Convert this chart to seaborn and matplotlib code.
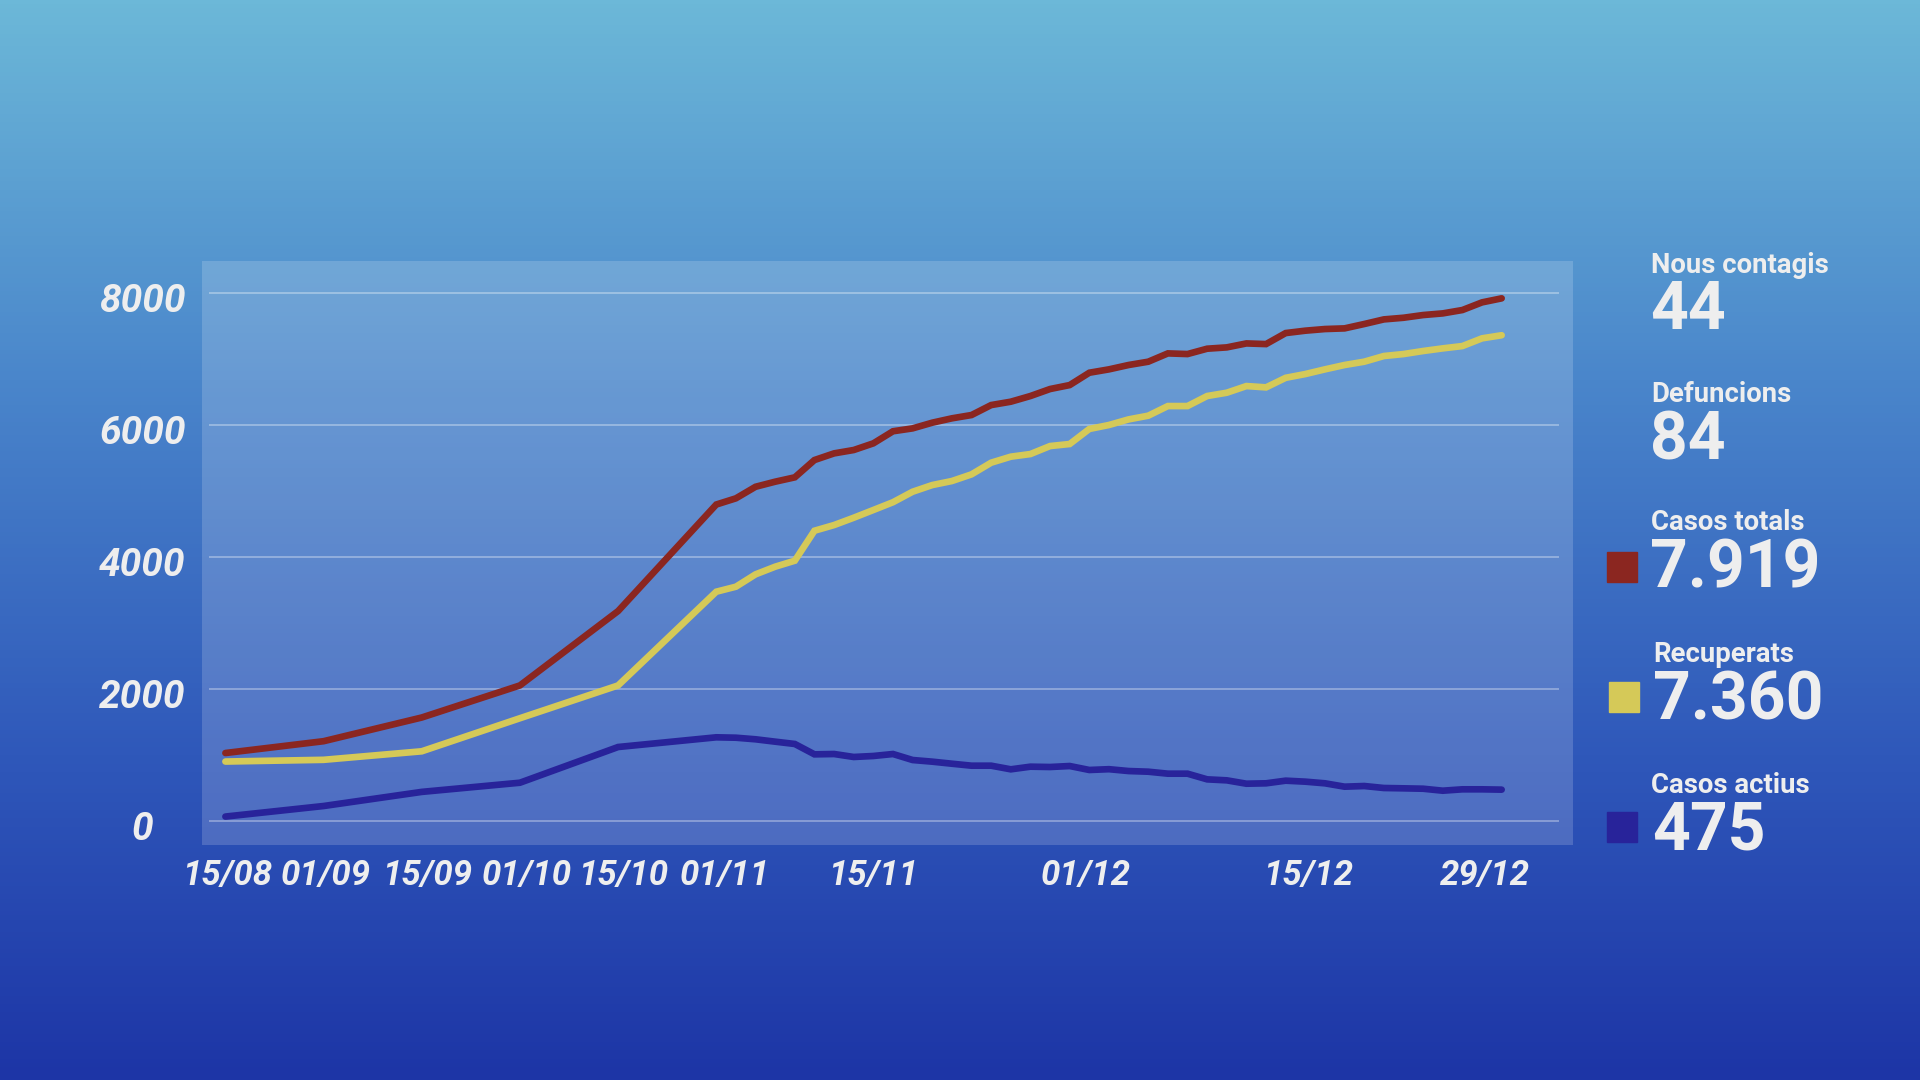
import numpy as np
import pandas as pd
import matplotlib
matplotlib.use("Agg")
import matplotlib.pyplot as plt
from matplotlib.colors import LinearSegmentedColormap
from matplotlib.transforms import ScaledTranslation
import seaborn as sns

# ---------------- data ----------------
# position of each data point on the category axis (early points are sparse)
point_idx = [0, 5, 10, 15, 20] + list(range(25, 66))

casos_totals = [1030, 1209, 1568, 2054, 3181,
                4795, 4889, 5064, 5141, 5207, 5469, 5570, 5621, 5722, 5905,
                5949, 6035, 6101, 6151, 6302, 6353, 6439, 6545, 6605, 6792,
                6843, 6909, 6959, 7085, 7075, 7156, 7176, 7236, 7226, 7393,
                7429, 7454, 7464, 7530, 7600, 7625, 7666, 7691, 7742, 7858, 7919]

recuperats = [901, 927, 1056, 1557, 2054,
              3474, 3550, 3737, 3853, 3944, 4398, 4484, 4595, 4712, 4830,
              4989, 5090, 5151, 5252, 5429, 5520, 5560, 5681, 5712, 5940,
              6000, 6085, 6141, 6287, 6287, 6439, 6489, 6590, 6570, 6715,
              6772, 6843, 6909, 6959, 7045, 7075, 7121, 7161, 7196, 7313, 7360]

casos_actius = [67, 227, 441, 580, 1121,
                1268, 1262, 1238, 1202, 1167, 1010, 1015, 970, 985, 1015,
                924, 899, 868, 838, 838, 783, 823, 818, 833, 773,
                785, 757, 747, 717, 717, 631, 616, 565, 571, 611,
                596, 571, 520, 530, 500, 495, 489, 459, 480, 480, 475]

tick_labels = ["15/08", "01/09", "15/09", "01/10", "15/10", "01/11",
               "15/11", "01/12", "15/12", "29/12"]
y_ticks = [0, 2000, 4000, 6000, 8000]

series_names = ["Casos totals", "Recuperats", "Casos actius"]
series_colors = ["#8B2620", "#D5C958", "#28239A"]

legend_titles = ["Nous contagis", "Defuncions", "Casos totals", "Recuperats", "Casos actius"]
legend_values = ["44", "84", "7.919", "7.360", "475"]
legend_swatch = [None, None, "#8B2620", "#D5C958", "#28239A"]

df = pd.DataFrame({
    "idx": point_idx * 3,
    "value": casos_totals + recuperats + casos_actius,
    "serie": sum([[n] * len(point_idx) for n in series_names], []),
})

# ---------------- style ----------------
sns.set_theme(style="white")
plt.rcParams["font.family"] = ["Roboto", "DejaVu Sans"]

W, H = 1920, 1080
fig = plt.figure(figsize=(19.2, 10.8), dpi=100)

# background gradient
bg = fig.add_axes([0, 0, 1, 1], zorder=-10)
cmap = LinearSegmentedColormap.from_list(
    "bg", [(0.0, "#6CB8D8"), (0.35, "#4A86CB"), (0.7, "#2F58BA"), (1.0, "#1D35A6")])
grad = np.linspace(0, 1, 256).reshape(-1, 1)
bg.imshow(grad, aspect="auto", cmap=cmap, extent=[0, 1, 0, 1], origin="upper")
bg.set_axis_off()

def fx(px):
    return px / W

def fy(py):
    return 1 - py / H

# main plot panel
left, right, top, bottom = 202, 1573, 261, 845
ax = fig.add_axes([fx(left), fy(bottom), fx(right) - fx(left), fy(top) - fy(bottom)])
ax.set_facecolor((1, 1, 1, 0.17))
for s in ax.spines.values():
    s.set_visible(False)

unit = 19.635
x0_px = 225.4
ax.set_xlim((left - x0_px) / unit, (right - x0_px) / unit)
y0_px, per_unit = 821.0, 528.0 / 8000
ax.set_ylim((y0_px - bottom) / per_unit, (y0_px - top) / per_unit)

# gridlines
ax.hlines(y_ticks, (209 - x0_px) / unit, (1559 - x0_px) / unit,
          colors=(1, 1, 1, 0.35), linewidth=1.3, zorder=1)

sns.lineplot(data=df, x="idx", y="value", hue="serie", palette=dict(zip(series_names, series_colors)),
             linewidth=4.8, ax=ax, legend=False, zorder=3, solid_capstyle="round",
             solid_joinstyle="miter")

# label centres as placed in the original (pixel x of each label centre)
label_centres_px = [227, 326, 427, 527, 623, 725, 873, 1086, 1308, 1485]
ax.set_xlabel("")
ax.set_ylabel("")
ax.set_xticks([(p - x0_px) / unit for p in label_centres_px])
ax.set_xticklabels(tick_labels)
ax.set_yticks(y_ticks)
ax.set_yticklabels([str(v) for v in y_ticks])
ax.tick_params(axis="both", length=0, colors="#EEEEEE")
ax.tick_params(axis="x", pad=10)
ax.tick_params(axis="y", pad=43)
for lab in ax.get_xticklabels():
    lab.set_fontsize(25)
    lab.set_fontweight("bold")
    lab.set_fontstyle("italic")
    lab.set_color("#EEEEEE")
for lab in ax.get_yticklabels():
    lab.set_fontsize(28)
    lab.set_fontweight("bold")
    lab.set_fontstyle("italic")
    lab.set_color("#EEEEEE")
    lab.set_horizontalalignment("center")
    lab.set_transform(lab.get_transform() + ScaledTranslation(0, -4 / 100, fig.dpi_scale_trans))
ax.grid(False)

# right-hand legend / figures
title_base = [273, 402, 530, 662, 793]
value_base = [329, 459, 588, 720, 850]
title_x = [1651, 1651, 1651, 1653, 1651]
value_x = [1650, 1650, 1650, 1653, 1652]
sw_box = [None, None, (1607, 552), (1609, 682), (1607, 812)]
for i in range(len(legend_titles)):
    fig.text(fx(title_x[i]), fy(title_base[i]), legend_titles[i], fontsize=19.8,
             fontweight="bold", color="#EEEEEE", ha="left", va="baseline")
    fig.text(fx(value_x[i]), fy(value_base[i]), legend_values[i], fontsize=47.5,
             fontweight="bold", color="#EEEEEE", ha="left", va="baseline")
    if legend_swatch[i] is not None:
        sx, sy = sw_box[i]
        fig.patches.append(plt.Rectangle((fx(sx), fy(sy + 30)), 30 / W, 30 / H,
                                         transform=fig.transFigure, color=legend_swatch[i]))

fig.savefig("out.png", dpi=100)
